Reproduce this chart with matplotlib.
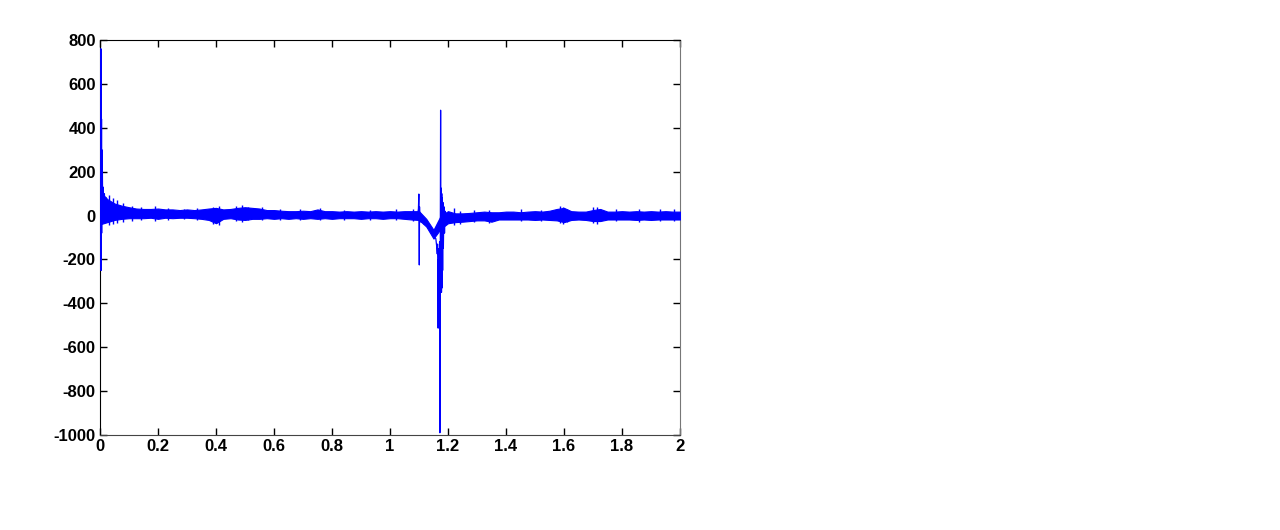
import numpy as np
import matplotlib.pyplot as plt

plt.rcParams['font.family'] = ['Liberation Sans', 'DejaVu Sans']
plt.rcParams['axes.unicode_minus'] = False

# noise band envelope (step 0.025)
t_band = np.arange(0, 2.0001, 0.025)
band_hi = [110, 75, 55, 45, 38, 32, 30, 30, 32, 28,
           28, 25, 28, 25, 28, 32, 35, 28, 30, 35,
           38, 35, 32, 25, 25, 22, 20, 20, 22, 20,
           28, 20, 20, 18, 20, 18, 20, 18, 20, 18,
           20, 18, 20, 20, 20, -15, -65, 0, 20, 10,
           10, 12, 15, 18, 15, 15, 18, 18, 15, 18,
           20, 18, 22, 30, 35, 20, 18, 18, 25, 30,
           18, 18, 20, 18, 20, 18, 20, 18, 20, 18, 18]
band_lo = [-40, -30, -20, -15, -12, -12, -12, -10, -15, -10,
           -12, -10, -10, -12, -15, -20, -35, -15, -12, -18,
           -20, -15, -15, -12, -15, -12, -15, -12, -15, -12,
           -15, -12, -15, -12, -12, -12, -15, -12, -12, -15,
           -12, -12, -15, -18, -20, -50, -105, -60, -35, -30,
           -28, -25, -22, -22, -28, -18, -18, -18, -18, -18,
           -20, -18, -20, -22, -30, -20, -18, -20, -25, -25,
           -18, -18, -18, -18, -20, -18, -20, -18, -18, -18, -18]

# single noise spikes sticking out of the band
spike_t = [0.03, 0.045, 0.06, 0.08, 0.11, 0.14, 0.19, 0.235, 0.29, 0.335,
           0.39, 0.41, 0.47, 0.49, 0.51, 0.56, 0.62, 0.69, 0.76, 0.84,
           0.93, 1.02, 1.08, 1.22, 1.24, 1.29, 1.34, 1.45, 1.52, 1.585,
           1.595, 1.61, 1.70, 1.715, 1.78, 1.86, 1.93, 1.98]
spike_hi = [95, 80, 70, 55, 45, 40, 45, 35, 30, 35,
            40, 42, 45, 50, 40, 38, 30, 28, 35, 25,
            25, 28, 30, 35, 20, 25, 25, 28, 25, 45,
            40, 30, 38, 40, 28, 30, 30, 28]
spike_lo = [-45, -40, -35, -30, -25, -20, -25, -18, -15, -20,
            -40, -45, -25, -30, -22, -20, -18, -20, -20, -18,
            -18, -22, -25, -45, -40, -30, -35, -25, -25, -35,
            -40, -28, -35, -38, -25, -28, -25, -25]

# start transient
t_start = [0.002, 0.003, 0.0035, 0.004, 0.0045, 0.005, 0.0055, 0.006, 0.007, 0.008,
           0.009, 0.010, 0.012, 0.015, 0.018, 0.022, 0.026, 0.030, 0.035, 0.040, 0.050]
y_start = [0, 760, -250, 450, 60, 440, -80, 300, 30, 200,
           40, 130, -20, 100, -30, 80, -20, 60, -10, 50, 10]

# event near t = 1.1 .. 1.2
t_event = [1.095, 1.098, 1.0995, 1.1003, 1.101, 1.1018, 1.103, 1.105, 1.108, 1.112,
           1.118, 1.124, 1.130, 1.136, 1.142, 1.148, 1.154, 1.158, 1.161, 1.163,
           1.164, 1.165, 1.166, 1.167, 1.168, 1.169, 1.170, 1.171, 1.172, 1.1735,
           1.1745, 1.1755, 1.1765, 1.1775, 1.1785, 1.1795, 1.1805, 1.1815, 1.1825, 1.184,
           1.186, 1.188, 1.190, 1.193, 1.196, 1.200, 1.205, 1.210]
y_event = [5, 30, 98, -30, -225, 40, -30, 10, -30, -10,
           -40, -25, -55, -45, -75, -70, -100, -105, -140, -175,
           -130, -250, -513, -200, -480, -150, -420, -120, -990, -100,
           480, -300, 125, -350, 100, -330, 80, -250, 60, -150,
           40, -80, 20, -40, 10, -30, 5, -25]

blue = '#0000ff'
fig = plt.figure(figsize=(12.8, 5.3), dpi=100)
ax = fig.add_axes([100 / 1280, 95 / 530, 580 / 1280, 395 / 530])

ax.fill_between(t_band, band_lo, band_hi, color=blue, linewidth=0.8, zorder=3)
ax.vlines(spike_t, spike_lo, spike_hi, color=blue, linewidth=1, zorder=3)
ax.plot(t_start, y_start, color=blue, linewidth=1, zorder=3)
ax.plot(t_event, y_event, color=blue, linewidth=0.9, zorder=3)

ax.set_xlim(0, 2)
ax.set_ylim(-1000, 800)
ax.set_xticks(np.arange(0, 2.01, 0.2))
ax.set_xticklabels(['0', '0.2', '0.4', '0.6', '0.8', '1', '1.2', '1.4', '1.6', '1.8', '2'])
ax.set_yticks(np.arange(-1000, 801, 200))
ax.tick_params(direction='in', top=True, right=True, length=5, width=1,
               labelsize=12, pad=3)
for lab in ax.get_xticklabels() + ax.get_yticklabels():
    lab.set_fontweight('bold')
ax.spines['left'].set_color('black')
ax.spines['top'].set_color('black')
ax.spines['right'].set_color('#777777')
ax.spines['bottom'].set_color('#444444')

fig.savefig('out.png', dpi=100)
